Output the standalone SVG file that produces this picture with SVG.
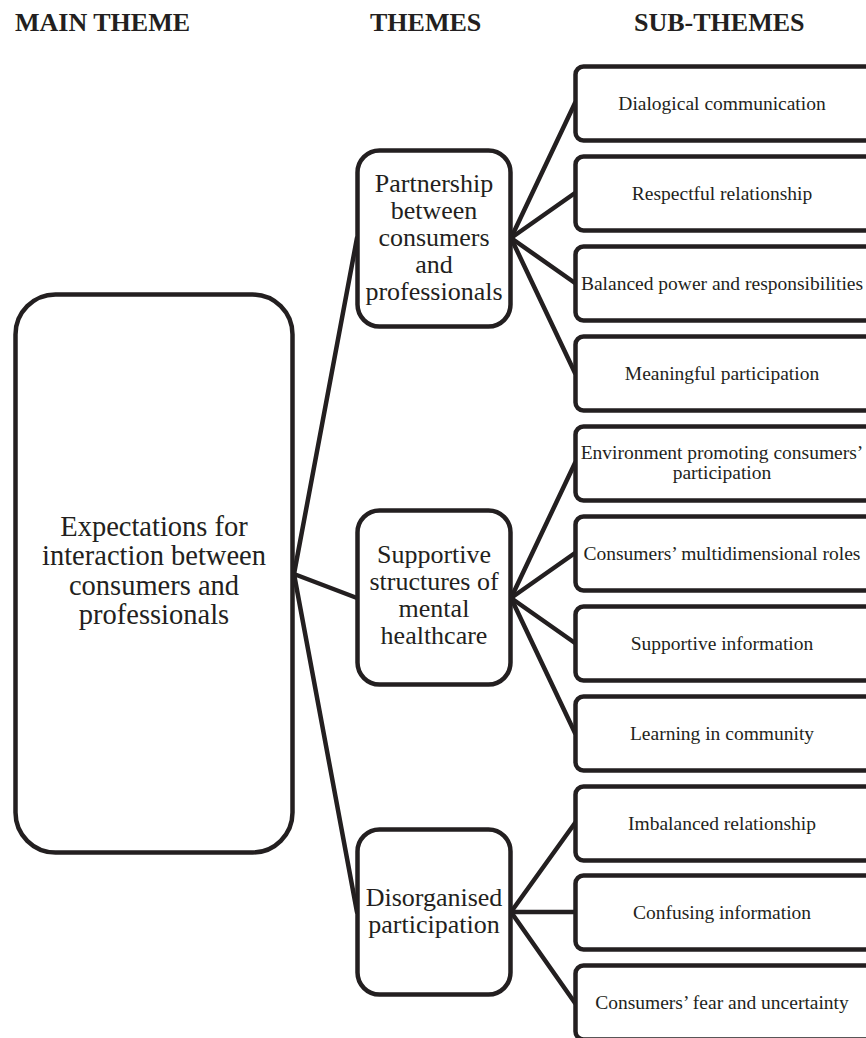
<svg xmlns="http://www.w3.org/2000/svg" width="866" height="1038" viewBox="0 0 866 1038">
<style>
.box{fill:#fff;stroke:#231f20;stroke-width:4.5}
.ln{stroke:#231f20;stroke-width:4.5;fill:none;stroke-linecap:round}
.hd{font-family:"Liberation Serif","Times New Roman",serif;font-weight:bold;font-size:26px;fill:#231f20}
.main{font-family:"Liberation Serif","Times New Roman",serif;font-size:28.5px;fill:#231f20;text-anchor:middle}
.th{font-family:"Liberation Serif","Times New Roman",serif;font-size:26px;fill:#231f20;text-anchor:middle}
.sub{font-family:"Liberation Serif","Times New Roman",serif;font-size:19.5px;fill:#231f20;text-anchor:middle}
</style>
<rect width="866" height="1038" fill="#fff"/>
<g id="headers">
<text class="hd" x="15" y="31">MAIN THEME</text>
<text class="hd" x="370" y="31">THEMES</text>
<text class="hd" x="634" y="31">SUB-THEMES</text>
</g>
<g id="connectors">
<line class="ln" x1="294" y1="574" x2="357" y2="238"/>
<line class="ln" x1="294" y1="574" x2="357" y2="598"/>
<line class="ln" x1="294" y1="574" x2="357" y2="912"/>
<line class="ln" x1="511" y1="238" x2="575" y2="103"/>
<line class="ln" x1="511" y1="238" x2="575" y2="193"/>
<line class="ln" x1="511" y1="238" x2="575" y2="283"/>
<line class="ln" x1="511" y1="238" x2="575" y2="373"/>
<line class="ln" x1="511" y1="598" x2="575" y2="463"/>
<line class="ln" x1="511" y1="598" x2="575" y2="553"/>
<line class="ln" x1="511" y1="598" x2="575" y2="643"/>
<line class="ln" x1="511" y1="598" x2="575" y2="733"/>
<line class="ln" x1="511" y1="912" x2="575" y2="823"/>
<line class="ln" x1="511" y1="912" x2="575" y2="912"/>
<line class="ln" x1="511" y1="912" x2="575" y2="1003"/>
</g>
<g id="main">
<rect class="box" x="15.5" y="294.5" width="277" height="558" rx="40"/>
<text class="main" x="154" y="536">Expectations for</text>
<text class="main" x="154" y="565">interaction between</text>
<text class="main" x="154" y="594.5">consumers and</text>
<text class="main" x="154" y="624">professionals</text>
</g>
<g id="theme-partnership">
<rect class="box" x="357.5" y="150.5" width="153" height="176" rx="22"/>
<text class="th" x="434" y="192">Partnership</text>
<text class="th" x="434" y="219">between</text>
<text class="th" x="434" y="246">consumers</text>
<text class="th" x="434" y="273">and</text>
<text class="th" x="434" y="300">professionals</text>
</g>
<g id="theme-supportive">
<rect class="box" x="357.5" y="510.5" width="153" height="174" rx="22"/>
<text class="th" x="434" y="563">Supportive</text>
<text class="th" x="434" y="590">structures of</text>
<text class="th" x="434" y="617">mental</text>
<text class="th" x="434" y="644">healthcare</text>
</g>
<g id="theme-disorganised">
<rect class="box" x="357.5" y="829.5" width="153" height="165" rx="22"/>
<text class="th" x="434" y="906">Disorganised</text>
<text class="th" x="434" y="933">participation</text>
</g>
<g id="sub-1"><rect class="box" x="575.5" y="66.5" width="300" height="74" rx="8"/><text class="sub" x="722" y="109.5">Dialogical communication</text></g>
<g id="sub-2"><rect class="box" x="575.5" y="156.5" width="300" height="74" rx="8"/><text class="sub" x="722" y="199.5">Respectful relationship</text></g>
<g id="sub-3"><rect class="box" x="575.5" y="246.5" width="300" height="74" rx="8"/><text class="sub" x="722" y="289.5">Balanced power and responsibilities</text></g>
<g id="sub-4"><rect class="box" x="575.5" y="336.5" width="300" height="74" rx="8"/><text class="sub" x="722" y="379.5">Meaningful participation</text></g>
<g id="sub-5"><rect class="box" x="575.5" y="426.5" width="300" height="74" rx="8"/><text class="sub" x="722" y="459">Environment promoting consumers’</text><text class="sub" x="722" y="478.5">participation</text></g>
<g id="sub-6"><rect class="box" x="575.5" y="516.5" width="300" height="74" rx="8"/><text class="sub" x="722" y="559.5">Consumers’ multidimensional roles</text></g>
<g id="sub-7"><rect class="box" x="575.5" y="606.5" width="300" height="74" rx="8"/><text class="sub" x="722" y="649.5">Supportive information</text></g>
<g id="sub-8"><rect class="box" x="575.5" y="696.5" width="300" height="74" rx="8"/><text class="sub" x="722" y="739.5">Learning in community</text></g>
<g id="sub-9"><rect class="box" x="575.5" y="786.5" width="300" height="74" rx="8"/><text class="sub" x="722" y="829.5">Imbalanced relationship</text></g>
<g id="sub-10"><rect class="box" x="575.5" y="875.5" width="300" height="74" rx="8"/><text class="sub" x="722" y="918.5">Confusing information</text></g>
<g id="sub-11"><rect class="box" x="575.5" y="965.5" width="300" height="74" rx="8"/><text class="sub" x="722" y="1008.5">Consumers’ fear and uncertainty</text></g>
</svg>
